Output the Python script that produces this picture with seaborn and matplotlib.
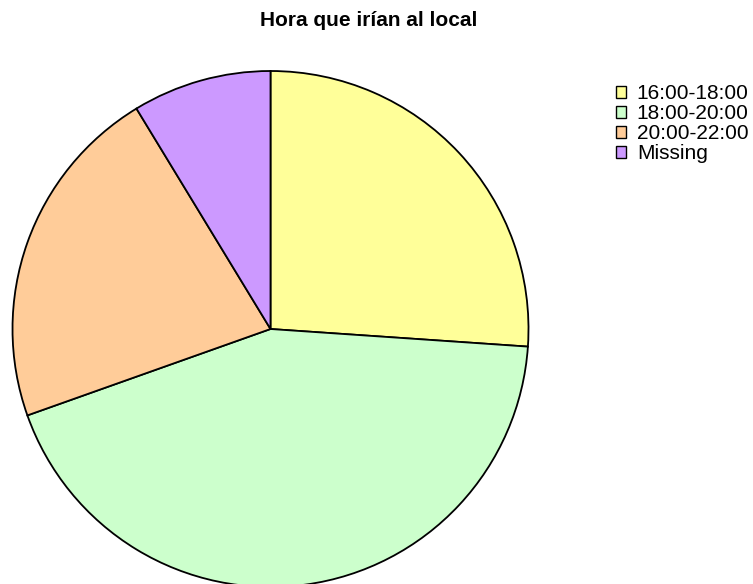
import matplotlib
matplotlib.use("Agg")
import matplotlib.pyplot as plt
import seaborn as sns

sns.set_theme(style="white")
plt.rcParams["font.family"] = ["Liberation Sans", "DejaVu Sans"]

categories = ["16:00-18:00", "18:00-20:00", "20:00-22:00", "Missing"]
counts = [6, 10, 5, 2]
colors = ["#FFFF99", "#CCFFCC", "#FFCC99", "#CC99FF"]

W, H = 753, 584
fig = plt.figure(figsize=(W / 100, H / 100), dpi=100)
fig.patch.set_facecolor("white")

# square axes box holding the pie (pixel units converted to figure fractions)
cx, cy, r = 270.5, 329, 258
ax = fig.add_axes([(cx - r) / W, (H - cy - r) / H, 2 * r / W, 2 * r / H])
wedges, _ = ax.pie(
    counts,
    colors=colors,
    startangle=90,
    counterclock=False,
    radius=1.0,
    wedgeprops=dict(edgecolor="black", linewidth=1.3),
)
for w in wedges:
    w.set_clip_on(False)
ax.set_xlim(-1, 1)
ax.set_ylim(-1, 1)
ax.set_aspect("auto")
ax.axis("off")

fig.text(369 / W, 1 - 20 / H, "Hora que irían al local", ha="center", va="center",
         fontsize=15, fontweight="bold", color="black")

leg = fig.legend(
    wedges, categories,
    loc="upper left",
    bbox_to_anchor=(616 / W, 1 - 84 / H),
    frameon=False,
    fontsize=15,
    handlelength=0.5,
    handleheight=0.5,
    handletextpad=0.5,
    labelspacing=0.05,
    borderpad=0.0,
    borderaxespad=0.0,
)
for h in leg.legend_handles:
    h.set_linewidth(1.0)
for t in leg.get_texts():
    t.set_color("black")

fig.savefig("out.png", dpi=100, facecolor="white")
